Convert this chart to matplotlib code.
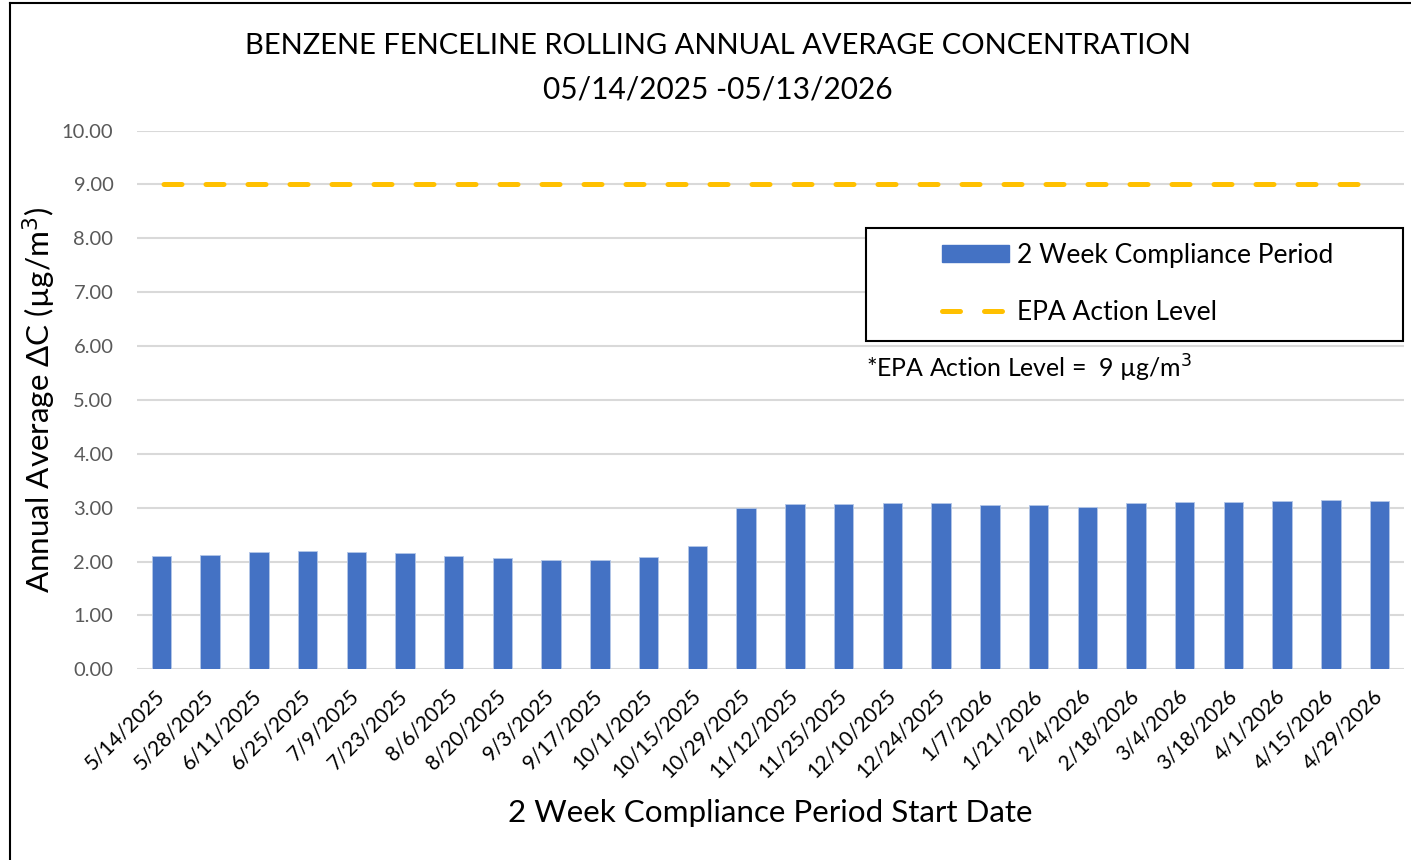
import matplotlib
matplotlib.use("Agg")
import matplotlib.pyplot as plt
from matplotlib.lines import Line2D
from matplotlib.patches import Patch, Rectangle

plt.rcParams['font.family'] = ['Lato', 'DejaVu Sans']

dates = ["5/14/2025", "5/28/2025", "6/11/2025", "6/25/2025", "7/9/2025", "7/23/2025",
         "8/6/2025", "8/20/2025", "9/3/2025", "9/17/2025", "10/1/2025", "10/15/2025",
         "10/29/2025", "11/12/2025", "11/25/2025", "12/10/2025", "12/24/2025", "1/7/2026",
         "1/21/2026", "2/4/2026", "2/18/2026", "3/4/2026", "3/18/2026", "4/1/2026",
         "4/15/2026", "4/29/2026"]
values = [2.10, 2.12, 2.17, 2.20, 2.18, 2.15, 2.10, 2.06, 2.02, 2.02, 2.09, 2.29,
          2.99, 3.07, 3.07, 3.09, 3.09, 3.05, 3.05, 3.02, 3.09, 3.10, 3.11, 3.13,
          3.14, 3.12]
action_level = [9.0] * len(dates)
yticks = [0, 1, 2, 3, 4, 5, 6, 7, 8, 9, 10]

W, H = 1411, 860
fig = plt.figure(figsize=(W / 100, H / 100), dpi=100)
ax = fig.add_axes([137 / W, 1 - 669.3 / H, (1404 - 137) / W, (669.3 - 130.5) / H])

DASH = (7.9, (3.6, 4.8))
x = list(range(len(dates)))
ax.bar(x, values, width=0.4, color='#4472C4', edgecolor='#b4c7e7', linewidth=0.6, zorder=3)
ax.plot(x, action_level, color='#FFC000', linewidth=3.6, zorder=4, linestyle=DASH,
        solid_capstyle='round', dash_capstyle='round')

ax.set_xlim(-0.5, len(dates) - 0.5)
ax.set_ylim(0, 10)
ax.set_yticks(yticks)
ax.set_yticklabels([f"{v:.2f}" for v in yticks], color='#595959', fontsize=14.5)
ax.set_xticks(x)
ax.set_xticklabels(dates, rotation=45, ha='right', va='center', rotation_mode='anchor',
                   fontsize=15)
ax.tick_params(axis='both', length=0)
ax.tick_params(axis='x', pad=17)
ax.tick_params(axis='y', pad=17)
ax.grid(axis='y', color='#d9d9d9', linewidth=1.5, zorder=0)
for s in ax.spines.values():
    s.set_visible(False)

ax.set_ylabel("Annual Average ΔC (µg/m$^3$)", fontsize=22.6)
ax.yaxis.set_label_coords(-0.062, 0.5)
fig.text(770 / W, 1 - 813 / H, "2 Week Compliance Period Start Date", ha='center', va='center',
         fontsize=22.6)

fig.text(718 / W, 1 - 46 / H, "BENZENE FENCELINE ROLLING ANNUAL AVERAGE CONCENTRATION",
         ha='center', va='center', fontsize=21)
fig.text(718 / W, 1 - 89 / H, "05/14/2025 -05/13/2026", ha='center', va='center', fontsize=21.5)

# legend frame
fig.add_artist(Rectangle((866 / W, 1 - 341 / H), (1403 - 866) / W, (341 - 228) / H,
                         transform=fig.transFigure, facecolor='white', edgecolor='black',
                         linewidth=1.5, zorder=5))
handles = [Patch(facecolor='#4472C4', edgecolor='#4472C4'),
           Line2D([0], [0], color='#FFC000', linewidth=3.6, linestyle=(0, (3.6, 4.8)),
                  dash_capstyle='round')]
leg = fig.legend(handles, ["2 Week Compliance Period", "EPA Action Level"],
                 loc='center left', bbox_to_anchor=(942 / W, 1 - 284 / H),
                 frameon=False, fontsize=19, handlelength=2.55, handleheight=0.64,
                 labelspacing=1.23, borderpad=0, handletextpad=0.3, borderaxespad=0)
leg.set_zorder(6)

fig.text(866 / W, 1 - 368 / H, "*EPA Action Level =  9 µg/m$^3$", ha='left', va='center',
         fontsize=17.9)

# outer border
fig.add_artist(Line2D([9.5 / W, 9.5 / W], [0, 1 - 3 / H], color='black', linewidth=1.5,
                      transform=fig.transFigure))
fig.add_artist(Line2D([9.5 / W, 1], [1 - 3 / H, 1 - 3 / H], color='black', linewidth=1.5,
                      transform=fig.transFigure))

fig.savefig("out.png", dpi=100)
